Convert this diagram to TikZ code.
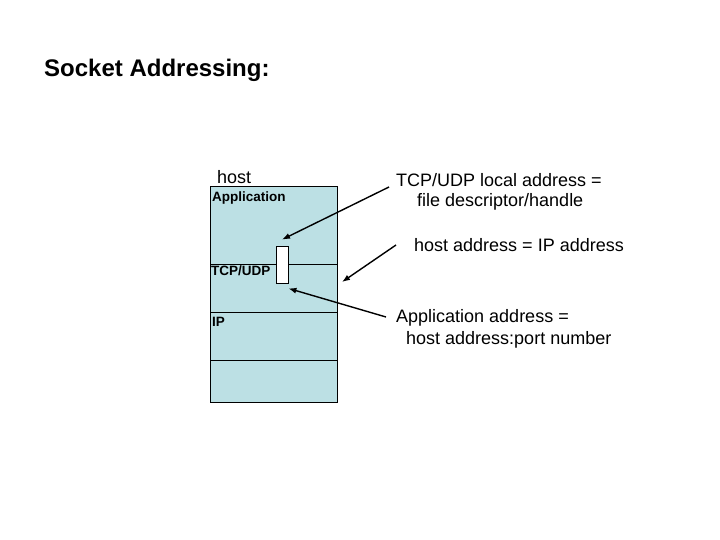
\documentclass[tikz,border=0pt]{standalone}
\usepackage{fontspec}
\setmainfont{Liberation Sans}
\usetikzlibrary{arrows.meta}
\definecolor{layerblue}{RGB}{188,224,228}
\tikzset{
big/.style={font=\fontsize{18}{21}\selectfont,anchor=west,inner sep=0pt},
layer/.style={font=\fontsize{13.5}{15}\selectfont\bfseries,anchor=west,inner sep=0pt},
pointer/.style={-{Latex[length=8pt,width=6pt]},line width=1.4pt}
}
\begin{document}
\begin{tikzpicture}[x=1pt,y=-1pt]
\useasboundingbox (0,0) rectangle (720,540);

% Titre
\node[anchor=west,inner sep=0pt,
font=\fontsize{24}{28}\selectfont\bfseries]
(title)
at (44,70)
{Socket Addressing:};

% Pile du host
\draw[fill=layerblue,line width=0.8pt] (210,186) rectangle (337,402);
\foreach \y in {264,312,360}
{
\draw[line width=0.8pt] (210,\y) -- (337,\y);
}

\node[big] (host) at (217,177) {host};
\node[layer] (app) at (212,198) {Application};
\node[layer] (tcp) at (211,271) {TCP/UDP};
\node[layer] (ip) at (212,322) {IP};

% Socket
\node[draw,fill=white,line width=0.8pt,
minimum width=12pt,
minimum height=37pt,
inner sep=0pt]
(S)
at (282,264.5)
{};

% Textes
\node[big] (tl1) at (396,180) {TCP/UDP local address =};
\node[big] (tl2) at (417,202) {file descriptor/handle};
\node[big] (ha) at (414,245) {host address = IP address};
\node[big] (aa1) at (396,318) {Application address =};
\node[big] (aa2) at (406,340) {host address:port number};

% Flèches
\coordinate (p1) at (389,187);
\coordinate (p2) at (396,245);
\coordinate (p3) at (386,317);
\coordinate (q2) at (342,282);
\draw[pointer] (p1) -- ([yshift=6pt]S.north);
\draw[pointer] (p2) -- (q2);
\draw[pointer] (p3) -- ([yshift=-5pt]S.south east);

\end{tikzpicture}
\end{document}
